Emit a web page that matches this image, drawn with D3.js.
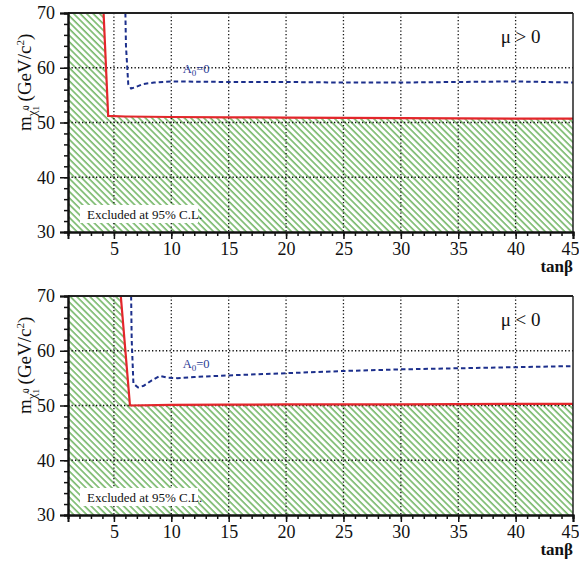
<!DOCTYPE html>
<html><head><meta charset="utf-8">
<script src="https://cdn.jsdelivr.net/npm/d3@7"></script>
<style>body{margin:0;background:#fff}svg{display:block}svg text{font-family:"Liberation Serif","Times New Roman","DejaVu Serif",serif}</style>
</head><body>
<script>
// ---- data ----
const xMajorTicks = [5,10,15,20,25,30,35,40,45];
const yMajorTicks = [30,40,50,60,70];
const panelSigns = ["\u03bc > 0", "\u03bc < 0"];
// top panel (mu > 0): red = experimental exclusion boundary, blue = A0=0 curve
const redTop = [[4.1,70],[4.5,51.2],[6,51.1],[10,51.0],[15,50.95],[20,50.9],[25,50.85],[30,50.8],[35,50.75],[40,50.7],[45,50.7]];
const blueTop = [[6.0,70],[6.05,64],[6.25,57],[6.5,56.2],[6.8,56.4],[7.5,57.0],[8.5,57.3],[10,57.5],[15,57.4],[20,57.4],[25,57.3],[30,57.3],[35,57.4],[40,57.5],[45,57.3]];
// bottom panel (mu < 0)
const redBot = [[5.6,70],[6.4,50.0],[10,50.1],[15,50.15],[20,50.2],[25,50.2],[30,50.2],[35,50.25],[40,50.3],[45,50.3]];
const blueBot = [[6.5,70],[6.55,62],[6.7,54],[7.1,53.3],[7.6,53.6],[8.3,54.6],[9,55.4],[9.6,55.1],[10.5,55.0],[12,55.2],[15,55.5],[20,55.9],[25,56.3],[30,56.6],[35,56.8],[40,57.0],[45,57.2]];

const W = 579, H = 571;
const svg = d3.select("body").append("svg").attr("width", W).attr("height", H);
const defs = svg.append("defs");
const pat = defs.append("pattern").attr("id","hatch").attr("patternUnits","userSpaceOnUse")
  .attr("width",4.6).attr("height",10).attr("patternTransform","rotate(-45)");
pat.append("line").attr("x1",1).attr("y1",0).attr("x2",1).attr("y2",10)
  .attr("stroke","#62ad52").attr("stroke-width",1.4);

const serif = '"Liberation Serif","Times New Roman","DejaVu Serif",serif';
const x = d3.scaleLinear().domain([1,45]).range([68,573]);

function panel(top, red, blue, muText, idx){
  const y = d3.scaleLinear().domain([30,70]).range([top+219, top]);
  const g = svg.append("g");
  const clipId = "clip"+idx;
  defs.append("clipPath").attr("id",clipId).append("rect")
    .attr("x",x(1)).attr("y",top).attr("width",x(45)-x(1)).attr("height",219);
  const pg = g.append("g").attr("clip-path",`url(#${clipId})`);
  // hatched excluded region
  const poly = [[1,70]].concat(red).concat([[45,30],[1,30]]);
  pg.append("path").attr("d", d3.line().x(d=>x(d[0])).y(d=>y(d[1]))(poly)+"Z")
    .attr("fill","url(#hatch)");
  // grid
  xMajorTicks.filter(v=>v<45).forEach(v=>{
    pg.append("line").attr("x1",x(v)).attr("x2",x(v)).attr("y1",top).attr("y2",top+219)
      .attr("stroke","#111").attr("stroke-width",1.3).attr("stroke-dasharray","1.3,2.2");
  });
  [40,50,60].forEach(v=>{
    pg.append("line").attr("x1",x(1)).attr("x2",x(45)).attr("y1",y(v)).attr("y2",y(v))
      .attr("stroke","#111").attr("stroke-width",1.3).attr("stroke-dasharray","1.3,2.2");
  });
  // legend box
  const lb = pg.append("g");
  lb.append("rect").attr("x",80).attr("y",y(30)-27).attr("width",118).attr("height",18).attr("fill","#fff");
  lb.append("text").attr("x",87).attr("y",y(30)-13).style("font-family",serif).attr("font-size",13)
    .attr("fill","#111").text("Excluded at 95% C.L.");
  // curves
  const line = d3.line().x(d=>x(d[0])).y(d=>y(d[1]));
  pg.append("path").attr("d",line(blue)).attr("fill","none").attr("stroke","#1c2f8c")
    .attr("stroke-width",2).attr("stroke-dasharray","4.5,3");
  pg.append("path").attr("d",line(red)).attr("fill","none").attr("stroke","#e3262b")
    .attr("stroke-width",2.2);
  // frame top/right
  g.append("line").attr("x1",x(1)).attr("x2",x(45)).attr("y1",top).attr("y2",top).attr("stroke","#222").attr("stroke-width",2);
  g.append("line").attr("x1",x(45)).attr("x2",x(45)).attr("y1",top).attr("y2",top+219).attr("stroke","#222").attr("stroke-width",1.5);
  // axes
  const xMinor = d3.range(1,46);
  const gxm = g.append("g").attr("transform",`translate(0,${top+219})`)
    .call(d3.axisBottom(x).tickValues(xMinor).tickSize(4).tickFormat(""));
  const gx = g.append("g").attr("transform",`translate(0,${top+219})`)
    .call(d3.axisBottom(x).tickValues(xMajorTicks).tickSize(7).tickPadding(3).tickFormat(d3.format("d")));
  const yMinor = d3.range(30,71,2);
  const gym = g.append("g").attr("transform",`translate(${x(1)},0)`)
    .call(d3.axisLeft(y).tickValues(yMinor).tickSize(4).tickFormat(""));
  const gy = g.append("g").attr("transform",`translate(${x(1)},0)`)
    .call(d3.axisLeft(y).tickValues(yMajorTicks).tickSize(8).tickPadding(5).tickFormat(d3.format("d")));
  [gxm,gx,gym,gy].forEach(a=>{
    a.attr("font-family",null);
    a.select(".domain").attr("stroke","#111").attr("stroke-width",2);
    a.selectAll(".tick line").attr("stroke","#111").attr("stroke-width",1.5);
    a.selectAll("text").style("font-family",serif).attr("font-size",18).attr("fill","#111");
  });
  gx.selectAll(".tick").filter(d=>d===45).select("text").attr("dx",-3);
  // mu label
  g.append("text").attr("x",x(38.7)).attr("y",top+30).style("font-family",serif).attr("font-size",19)
    .attr("fill","#111").text(muText);
  // A0 = 0 label
  const aY = idx===0 ? y(59.0) : y(56.8);
  const at = g.append("text").attr("x",x(11)).attr("y",aY).style("font-family",serif)
    .attr("font-size",12.5).attr("fill","#2a3c96");
  at.append("tspan").text("A");
  at.append("tspan").attr("font-size",9).attr("dy",3).text("0");
  at.append("tspan").attr("dy",-3).text("=0");
  // tan beta
  g.append("text").attr("x",573).attr("y",top+259).attr("text-anchor","end").style("font-family",serif)
    .attr("font-size",17).attr("font-weight","bold").attr("fill","#111").text("tan\u03b2");
  // y label
  const yl = g.append("text").attr("transform",`translate(31,${top+118}) rotate(-90)`)
    .style("font-family",serif).attr("font-size",19).attr("fill","#111");
  yl.append("tspan").text("m");
  yl.append("tspan").attr("font-size",13).attr("dy",5).text("\u03c7\u0303");
  yl.append("tspan").attr("font-size",9).attr("dy",3).text("1");
  yl.append("tspan").attr("font-size",9).attr("dx",-4).attr("dy",-10).text("0");
  yl.append("tspan").attr("dy",2).attr("dx",4).text("(GeV/c");
  yl.append("tspan").attr("font-size",11).attr("dy",-7).text("2");
  yl.append("tspan").attr("dy",7).text(")");
}
panel(13, redTop, blueTop, panelSigns[0], 0);
panel(296, redBot, blueBot, panelSigns[1], 1);
</script>
</body></html>
